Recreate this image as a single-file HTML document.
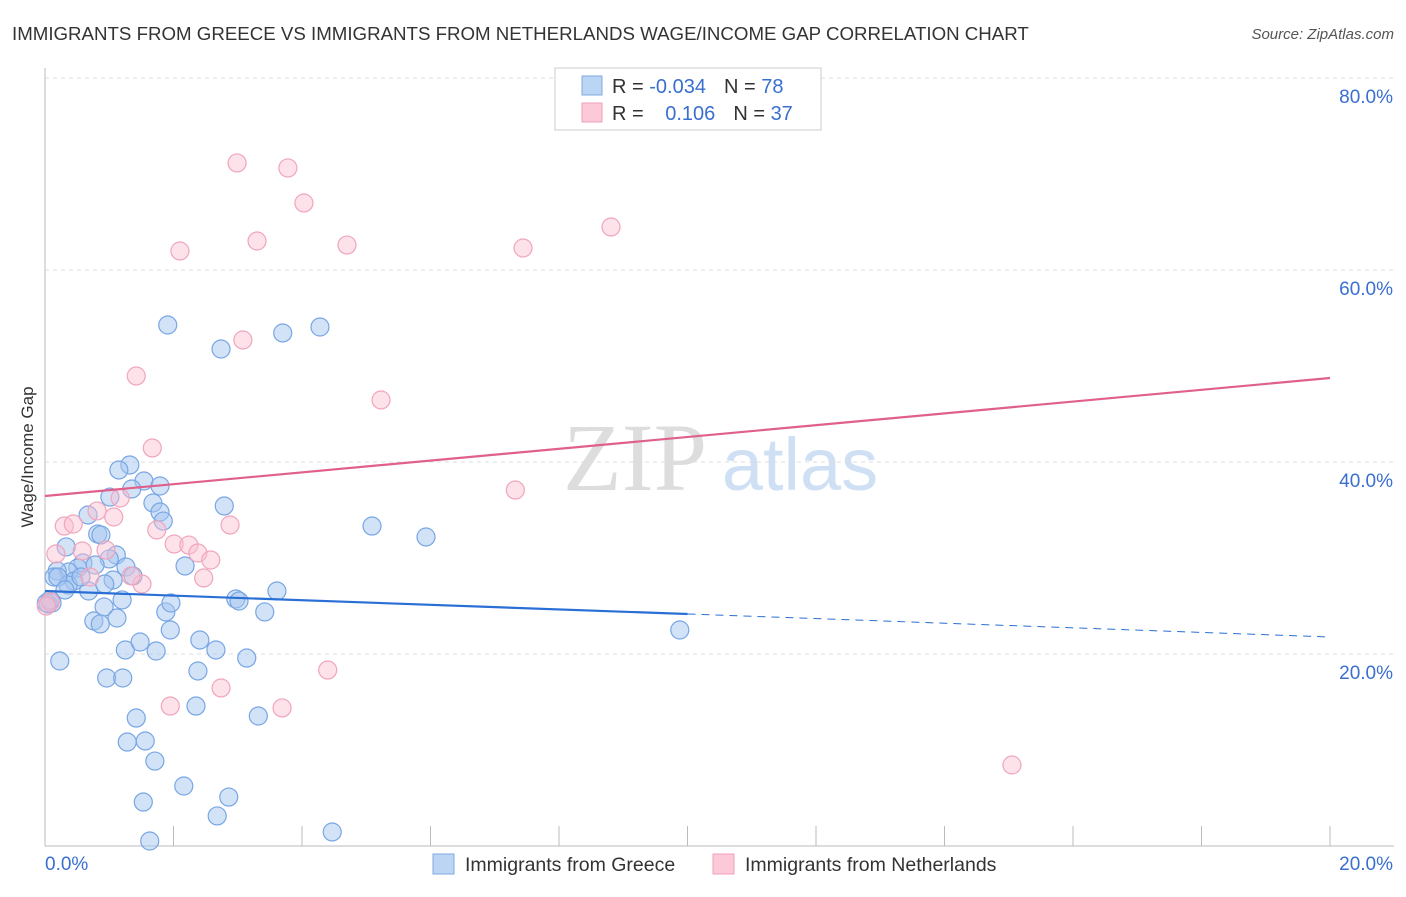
<!DOCTYPE html>
<html><head><meta charset="utf-8"><style>
body{margin:0;background:#fff;font-family:"Liberation Sans",sans-serif;}
</style></head><body>
<svg id="chart" width="1406" height="892" xmlns="http://www.w3.org/2000/svg" font-family="Liberation Sans, sans-serif">
<text x="12" y="40" font-size="18.7" fill="#333">IMMIGRANTS FROM GREECE VS IMMIGRANTS FROM NETHERLANDS WAGE/INCOME GAP CORRELATION CHART</text>
<text x="1394" y="39" font-size="15" fill="#555" text-anchor="end" font-style="italic">Source: ZipAtlas.com</text>
<text transform="translate(33,457) rotate(-90)" font-size="17" fill="#333" text-anchor="middle">Wage/Income Gap</text>
<g><text x="635" y="490" font-size="96" fill="#ddd" font-family="Liberation Serif, serif" text-anchor="middle">ZIP</text><text x="800" y="490" font-size="74" fill="#cfe0f5" text-anchor="middle">atlas</text></g>
<g id="grid"></g><g id="axes"></g><g id="pts"></g><g id="trends"></g>
<g>
<rect x="555" y="68" width="266" height="62" fill="#fff" stroke="#ccc"/>
<rect x="582" y="76" width="20" height="19" fill="#bcd5f5" stroke="#7fa9e3"/>
<rect x="582" y="103" width="20" height="19" fill="#fcc9d8" stroke="#f0a0b8"/>
<text x="612" y="93" font-size="20" fill="#333">R = <tspan fill="#3a6fd0">-0.034</tspan><tspan dx="18">N = </tspan><tspan fill="#3a6fd0">78</tspan></text>
<text x="612" y="120" font-size="20" fill="#333">R = <tspan fill="#3a6fd0" dx="16">0.106</tspan><tspan dx="18">N = </tspan><tspan fill="#3a6fd0">37</tspan></text>
</g>
<g>
<rect x="433" y="854" width="21" height="20" fill="#bcd5f5" stroke="#7fa9e3"/>
<text x="465" y="871" font-size="19.5" fill="#333">Immigrants from Greece</text>
<rect x="713" y="854" width="21" height="20" fill="#fcc9d8" stroke="#f0a0b8"/>
<text x="745" y="871" font-size="19.5" fill="#333">Immigrants from Netherlands</text>
</g>
</svg>
<script>
const xTicks=[0,20];
const yTicks=[20,40,60,80];
const greeceX=[1.91,2.74,3.70,4.28,1.32,1.15,1.01,0.67,1.54,1.79,1.35,1.68,1.79,1.84,2.79,5.09,5.93,0.82,0.33,0.87,1.11,0.59,1.00,0.51,0.37,0.19,0.14,0.45,0.36,0.68,0.11,0.05,0.02,1.06,1.26,1.37,2.18,0.92,0.76,1.12,0.86,1.88,1.95,2.97,3.02,3.42,3.61,2.41,2.66,1.25,1.73,1.48,0.23,2.38,3.14,0.96,1.21,2.35,3.32,1.42,1.28,1.56,1.71,2.16,1.53,2.86,2.68,4.47,1.63,9.88,0.20,0.08,0.56,0.78,0.31,1.20,0.93,1.96];
const greeceY=[54.27,51.77,53.44,54.06,39.69,39.17,36.35,34.48,38.02,37.50,37.19,35.73,34.79,33.85,35.42,33.33,32.19,32.50,31.15,32.40,30.31,29.48,29.90,28.96,28.54,28.65,28.02,27.60,27.19,26.56,25.31,25.21,25.31,27.71,29.06,28.13,29.17,24.90,23.44,23.75,23.13,24.38,22.50,25.73,25.52,24.38,26.56,21.46,20.42,20.42,20.31,21.25,19.27,18.23,19.58,17.50,17.50,14.58,13.54,13.33,10.83,10.94,8.85,6.25,4.58,5.10,3.13,1.46,0.52,22.50,28.02,25.63,28.02,29.27,26.67,25.63,27.29,25.31];
const nethX=[2.99,3.78,4.03,2.10,3.30,4.70,7.44,8.81,3.08,1.42,5.23,1.67,7.32,1.17,0.81,1.07,0.30,0.44,1.74,2.88,2.01,2.24,2.38,2.58,0.17,0.58,0.95,2.47,0.70,1.51,1.34,0.08,0.02,4.40,2.74,1.95,3.69,15.05];
const nethY=[71.15,70.63,66.98,61.98,63.02,62.60,62.29,64.48,52.71,48.96,46.46,41.46,37.08,36.25,34.90,34.27,33.33,33.54,32.92,33.44,31.46,31.35,30.52,29.79,30.42,30.73,30.83,27.92,28.02,27.29,28.13,25.42,25.00,18.33,16.46,14.58,14.38,8.44];
const greeceTrend=[26.56,21.77];
const nethTrend=[36.46,48.75];
const greeceSolidEnd=10;
const NS='http://www.w3.org/2000/svg';
const X=v=>45+v/20*1285, Y=v=>846-v/80*768;
function mk(tag,parent,attrs){const e=document.createElementNS(NS,tag);for(const k in attrs)e.setAttribute(k,attrs[k]);document.getElementById(parent).appendChild(e);return e;}
yTicks.forEach(t=>{
 const g=mk('line','grid',{x1:45,x2:1394,y1:Y(t),y2:Y(t),stroke:'#ddd','stroke-dasharray':'4,4'});
 
 
 const l=mk('text','axes',{x:1393,y:Y(t)+25,'font-size':19,fill:'#3a6fd0','text-anchor':'end'});l.textContent=t.toFixed(1)+'%';
 
 
});
const ax=mk('line','axes',{x1:45,x2:45,y1:68,y2:846,stroke:'#bbb'});


const bx=mk('line','axes',{x1:45,x2:1394,y1:846,y2:846,stroke:'#bbb'});


for(let i=0;i<=10;i++){const t=mk('line','axes',{x1:X(i*2),x2:X(i*2),y1:826,y2:846,stroke:'#bbb'});
 
 }
xTicks.forEach((t,i)=>{const l=mk('text','axes',{x:i?1393:45,y:870,'font-size':19,fill:'#3a6fd0','text-anchor':i?'end':'start'});l.textContent=t.toFixed(1)+'%';
 
 });
greeceX.forEach((v,i)=>{const c=mk('circle','pts',{cx:X(v),cy:Y(greeceY[i]),r:9,fill:'rgba(165,198,240,0.5)',stroke:'#78a6e4','stroke-width':1.2});
 
 });
nethX.forEach((v,i)=>{const c=mk('circle','pts',{cx:X(v),cy:Y(nethY[i]),r:9,fill:'rgba(250,190,208,0.45)',stroke:'#f0a5bd','stroke-width':1.2});
 
 });
const gy=x=>greeceTrend[0]+(greeceTrend[1]-greeceTrend[0])*x/20;
const t1=mk('line','trends',{x1:X(0),y1:Y(gy(0)),x2:X(greeceSolidEnd),y2:Y(gy(greeceSolidEnd)),stroke:'#2a6fd6','stroke-width':2.2});


const t2=mk('line','trends',{x1:X(greeceSolidEnd),y1:Y(gy(greeceSolidEnd)),x2:X(20),y2:Y(gy(20)),stroke:'#2a6fd6','stroke-width':1,'stroke-dasharray':'8,6'});


const t3=mk('line','trends',{x1:X(0),y1:Y(nethTrend[0]),x2:X(20),y2:Y(nethTrend[1]),stroke:'#e0608a','stroke-width':2.2});


</script>
</body></html>
